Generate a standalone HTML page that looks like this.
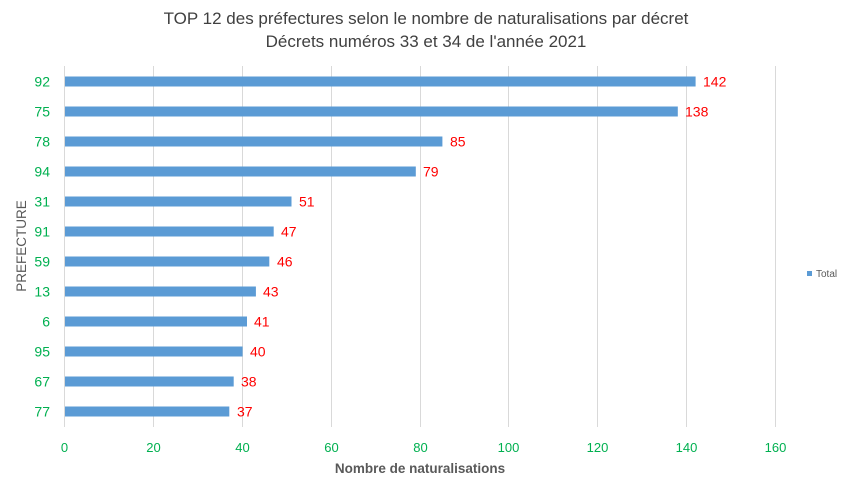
<!DOCTYPE html>
<html><head><meta charset="utf-8"><style>
html,body{margin:0;padding:0;background:#fff;}
svg{display:block;font-family:"Liberation Sans",Calibri,sans-serif;}
</style></head><body>
<svg width="853" height="488" viewBox="0 0 853 488" xmlns="http://www.w3.org/2000/svg">
<rect width="853" height="488" fill="#fff"/>
<text x="426" y="24" text-anchor="middle" font-size="17" fill="#404040">TOP 12 des préfectures selon le nombre de naturalisations par décret</text>
<text x="426" y="47" text-anchor="middle" font-size="17" fill="#404040">Décrets numéros 33 et 34 de l'année 2021</text>
<g stroke="#d9d9d9" stroke-width="1">
<line x1="64.5" y1="66" x2="64.5" y2="427"/>
<line x1="153.5" y1="66" x2="153.5" y2="427"/>
<line x1="242.5" y1="66" x2="242.5" y2="427"/>
<line x1="331.5" y1="66" x2="331.5" y2="427"/>
<line x1="420.5" y1="66" x2="420.5" y2="427"/>
<line x1="508.5" y1="66" x2="508.5" y2="427"/>
<line x1="597.5" y1="66" x2="597.5" y2="427"/>
<line x1="686.5" y1="66" x2="686.5" y2="427"/>
<line x1="775.5" y1="66" x2="775.5" y2="427"/>
</g>
<g fill="#5b9bd5">
<rect x="65" y="76.5" width="630.6" height="10"/>
<rect x="65" y="106.5" width="612.8" height="10"/>
<rect x="65" y="136.5" width="377.4" height="10"/>
<rect x="65" y="166.5" width="350.8" height="10"/>
<rect x="65" y="196.5" width="226.5" height="10"/>
<rect x="65" y="226.5" width="208.7" height="10"/>
<rect x="65" y="256.5" width="204.3" height="10"/>
<rect x="65" y="286.5" width="190.9" height="10"/>
<rect x="65" y="316.5" width="182" height="10"/>
<rect x="65" y="346.5" width="177.6" height="10"/>
<rect x="65" y="376.5" width="168.7" height="10"/>
<rect x="65" y="406.5" width="164.3" height="10"/>
</g>
<g fill="#ff0000" font-size="14">
<text x="703" y="86.5">142</text>
<text x="685" y="116.5">138</text>
<text x="450" y="146.5">85</text>
<text x="423" y="176.5">79</text>
<text x="299" y="206.5">51</text>
<text x="281" y="236.5">47</text>
<text x="277" y="266.5">46</text>
<text x="263" y="296.5">43</text>
<text x="254" y="326.5">41</text>
<text x="250" y="356.5">40</text>
<text x="241" y="386.5">38</text>
<text x="237" y="416.5">37</text>
</g>
<g fill="#00b050" font-size="14" text-anchor="end">
<text x="50" y="86.5">92</text>
<text x="50" y="116.5">75</text>
<text x="50" y="146.5">78</text>
<text x="50" y="176.5">94</text>
<text x="50" y="206.5">31</text>
<text x="50" y="236.5">91</text>
<text x="50" y="266.5">59</text>
<text x="50" y="296.5">13</text>
<text x="50" y="326.5">6</text>
<text x="50" y="356.5">95</text>
<text x="50" y="386.5">67</text>
<text x="50" y="416.5">77</text>
</g>
<g fill="#00b050" font-size="13" text-anchor="middle">
<text x="64.5" y="452">0</text>
<text x="153.5" y="452">20</text>
<text x="242.5" y="452">40</text>
<text x="331.5" y="452">60</text>
<text x="420.5" y="452">80</text>
<text x="508.5" y="452">100</text>
<text x="597.5" y="452">120</text>
<text x="686.5" y="452">140</text>
<text x="775.5" y="452">160</text>
</g>
<text x="420" y="473" text-anchor="middle" font-size="13.5" font-weight="bold" fill="#595959">Nombre de naturalisations</text>
<text transform="translate(26,246) rotate(-90)" text-anchor="middle" font-size="13.5" fill="#595959">PREFECTURE</text>
<rect x="807" y="271" width="5" height="5" fill="#5b9bd5"/>
<text x="816" y="277" font-size="10" fill="#595959">Total</text>
</svg>
</body></html>
